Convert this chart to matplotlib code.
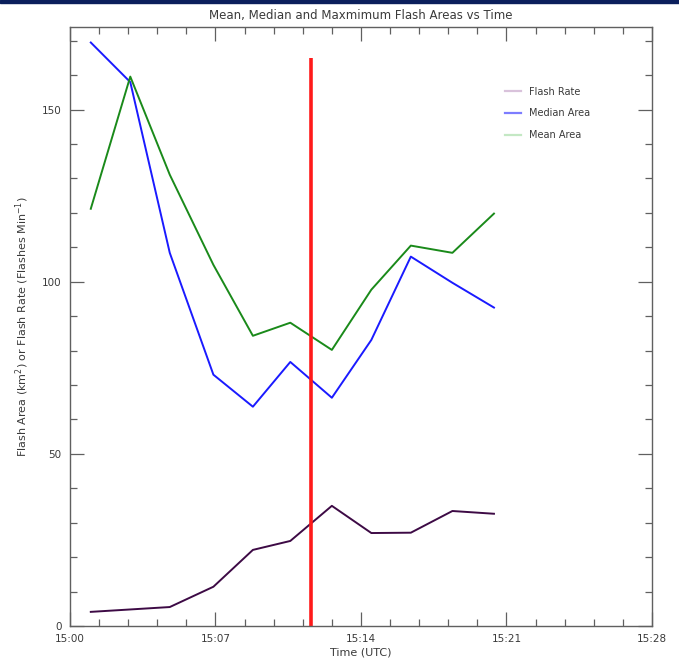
import matplotlib
matplotlib.use("Agg")
import matplotlib.pyplot as plt
from matplotlib.lines import Line2D
from matplotlib.ticker import FuncFormatter, MultipleLocator

# minutes after 15:00
times = [1.0, 2.9, 4.8, 6.9, 8.8, 10.6, 12.6, 14.5, 16.4, 18.4, 20.4]
median_area = [169.5, 158.0, 108.4, 73.0, 63.7, 76.7, 66.3, 83.1, 107.3, 99.7, 92.5]
mean_area = [121.2, 159.6, 131.1, 104.9, 84.3, 88.1, 80.2, 97.7, 110.5, 108.4, 119.8]
flash_rate = [4.1, 4.8, 5.5, 11.4, 22.1, 24.7, 34.9, 27.0, 27.1, 33.4, 32.6]
event_time = 11.6
event_top = 165

TXT = "#3a3a3a"
AX = "#606060"

fig = plt.figure(figsize=(6.79, 6.67), dpi=100)
fig.patch.set_facecolor("white")
ax = fig.add_axes([0.1031, 0.0615, 0.857, 0.898])

ax.plot(times, flash_rate, color="#3d0a45", lw=1.4)
ax.plot(times, median_area, color="#1a1aff", lw=1.4)
ax.plot(times, mean_area, color="#1a8a1a", lw=1.4)
ax.vlines(event_time, 0, event_top, color="#ff1a1a", lw=2.6)

ax.set_xlim(0, 28)
ax.set_ylim(0, 174)
ax.xaxis.set_major_locator(MultipleLocator(7))
ax.xaxis.set_minor_locator(MultipleLocator(1.4))
ax.yaxis.set_major_locator(MultipleLocator(50))
ax.yaxis.set_minor_locator(MultipleLocator(10))
ax.xaxis.set_major_formatter(FuncFormatter(lambda v, p: f"15:{int(round(v)):02d}"))
ax.tick_params(which="both", direction="in", top=True, right=True,
               colors=AX, labelcolor=TXT, labelsize=7.5, width=0.9)
ax.tick_params(which="major", length=10, pad=6)
ax.tick_params(which="minor", length=5)
for s in ax.spines.values():
    s.set_color(AX)
    s.set_linewidth(1.0)

ax.set_title("Mean, Median and Maxmimum Flash Areas vs Time",
             fontsize=8.5, color=TXT, pad=6)
ax.set_xlabel("Time (UTC)", fontsize=8, color=TXT, labelpad=2)
ax.set_ylabel(r"Flash Area (km$^2$) or Flash Rate (Flashes Min$^{-1}$)",
              fontsize=8, color=TXT, labelpad=8)

handles = [
    Line2D([], [], color="#d9c2db", lw=1.6, label="Flash Rate"),
    Line2D([], [], color="#7d7dff", lw=1.6, label="Median Area"),
    Line2D([], [], color="#c4e8c4", lw=1.6, label="Mean Area"),
]
leg = ax.legend(handles=handles, loc="upper left", bbox_to_anchor=(0.733, 0.915),
                frameon=False, fontsize=7, handlelength=1.6, labelspacing=1.2,
                handletextpad=0.8)
for t in leg.get_texts():
    t.set_color(TXT)

# dark band at top of the image
fig.add_artist(plt.Rectangle((0, 0.995), 1, 0.005, transform=fig.transFigure,
                             color="#0b1f5c", zorder=10))

fig.savefig("out.png", dpi=100)
